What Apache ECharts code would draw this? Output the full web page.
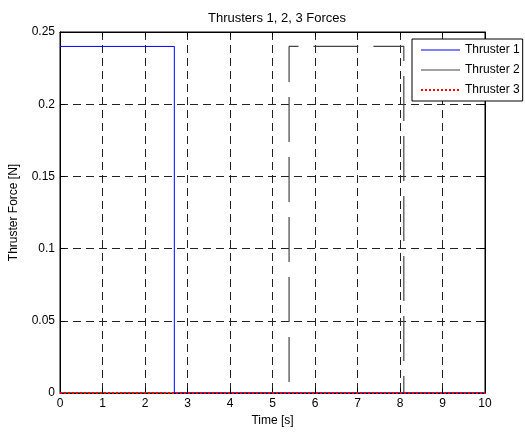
<!DOCTYPE html>
<html>
<head>
<meta charset="utf-8">
<script src="https://cdn.jsdelivr.net/npm/echarts@6/dist/echarts.min.js"></script>
<style>
html,body{margin:0;padding:0;background:#fff;}
#c{width:525px;height:432px;}
</style>
</head>
<body>
<div id="c"></div>
<script>
const seriesNames = ['Thruster 1', 'Thruster 2', 'Thruster 3'];
const t1Time = [0, 2.69, 2.69, 10];
const t1Force = [0.24, 0.24, 0, 0];
const t2Time = [0, 5.39, 5.39, 8.09, 8.09, 10];
const t2Force = [0, 0, 0.24, 0.24, 0, 0];
const t3Time = [0, 10];
const t3Force = [0, 0];
const xTicks = [0, 1, 2, 3, 4, 5, 6, 7, 8, 9, 10];
const yTicks = [0, 0.05, 0.1, 0.15, 0.2, 0.25];

const pair = (xs, ys) => xs.map((x, i) => [x, ys[i]]);
const font = 'Liberation Sans, Arial, sans-serif';
const gridLine = {show: true, lineStyle: {color: '#222', type: [8, 5], width: 1}};
const tick = {show: true, inside: true, length: 5, lineStyle: {color: '#000', width: 1}};

const chart = echarts.init(document.getElementById('c'));
chart.setOption({
  animation: false,
  backgroundColor: '#fff',
  title: {text: 'Thrusters 1, 2, 3 Forces', left: 272, top: 7, textAlign: 'center',
    textStyle: {fontFamily: font, fontSize: 13, fontWeight: 'normal', color: '#000'}},
  grid: {left: 60, right: 40, top: 32, bottom: 39, show: true, borderColor: '#000', borderWidth: 1},
  legend: {
    orient: 'vertical', left: 412, top: 39,
    padding: [5, 3, 5, 8], itemWidth: 39, itemHeight: 12, itemGap: 8,
    backgroundColor: '#fff', borderColor: '#000', borderWidth: 1, borderRadius: 0,
    itemStyle: {opacity: 0},
    textStyle: {fontFamily: font, fontSize: 12, color: '#000'},
    data: [
      {name: seriesNames[0], lineStyle: {width: 1}},
      {name: seriesNames[1], lineStyle: {width: 1}},
      {name: seriesNames[2], lineStyle: {width: 2}}
    ]
  },
  xAxis: [{
    type: 'value', min: 0, max: 10, interval: 1,
    name: 'Time [s]', nameLocation: 'middle', nameGap: 22,
    nameTextStyle: {fontFamily: font, fontSize: 12, color: '#000'},
    axisLine: {show: true, onZero: false, lineStyle: {color: '#000'}},
    axisTick: tick,
    axisLabel: {fontFamily: font, fontSize: 12, color: '#000', margin: 5},
    splitLine: gridLine
  }, {
    type: 'value', min: 0, max: 10, interval: 1, position: 'top',
    axisLine: {show: true, onZero: false, lineStyle: {color: '#000'}},
    axisTick: tick,
    axisLabel: {show: false}, splitLine: {show: false}
  }],
  yAxis: [{
    type: 'value', min: 0, max: 0.25, interval: 0.05,
    name: 'Thruster Force [N]', nameLocation: 'middle', nameGap: 40,
    nameTextStyle: {fontFamily: font, fontSize: 12, color: '#000'},
    axisLine: {show: true, onZero: false, lineStyle: {color: '#000'}},
    axisTick: tick,
    axisLabel: {fontFamily: font, fontSize: 12, color: '#000', margin: 5},
    splitLine: gridLine
  }, {
    type: 'value', min: 0, max: 0.25, interval: 0.05, position: 'right',
    axisLine: {show: true, onZero: false, lineStyle: {color: '#000'}},
    axisTick: tick,
    axisLabel: {show: false}, splitLine: {show: false}
  }],
  series: [{
    name: seriesNames[0], type: 'line', symbol: 'none', data: pair(t1Time, t1Force),
    itemStyle: {color: '#0000ff'}, lineStyle: {color: '#0000ff', width: 1}, z: 3
  }, {
    name: seriesNames[1], type: 'line', symbol: 'none', data: pair(t2Time, t2Force),
    itemStyle: {color: '#444'}, lineStyle: {color: '#444', width: 1.2, type: [45, 15]}, z: 2
  }, {
    name: seriesNames[2], type: 'line', symbol: 'none', data: pair(t3Time, t3Force),
    itemStyle: {color: '#ff0000'}, lineStyle: {color: '#ff0000', width: 2, type: [2, 2]}, z: 4
  }]
});
</script>
</body>
</html>
